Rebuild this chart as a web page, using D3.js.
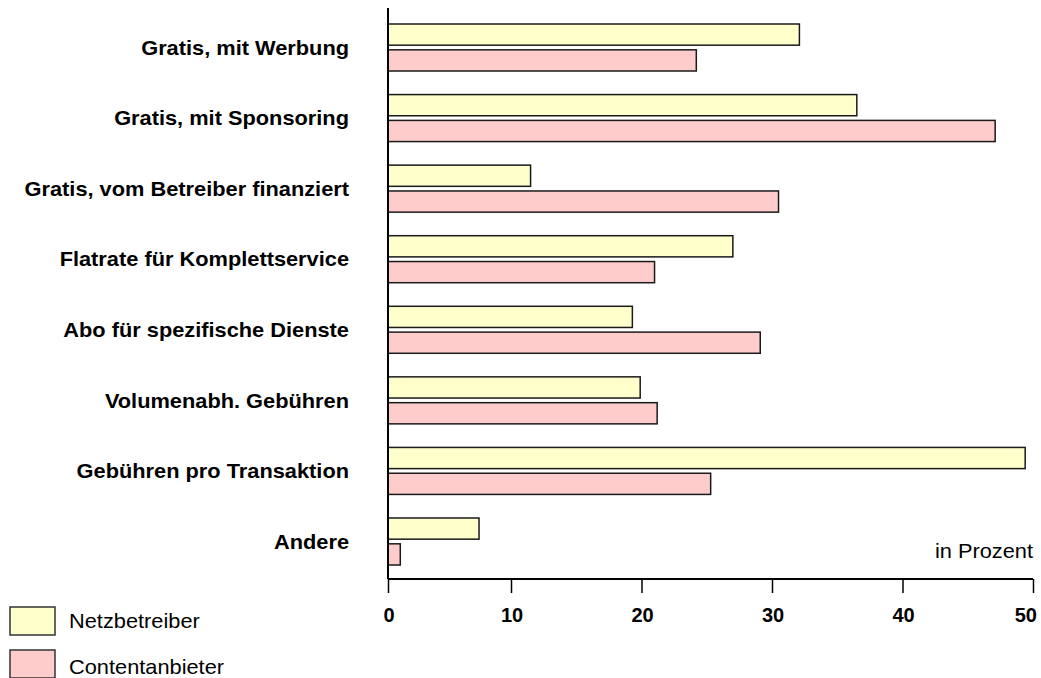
<!DOCTYPE html>
<html><head><meta charset="utf-8">
<script src="https://cdn.jsdelivr.net/npm/d3@7"></script>
<style>body{margin:0;background:#fff}svg{display:block}text{font-family:"Liberation Sans",Arial,sans-serif}</style>
</head><body><svg id="c" width="1041" height="678"></svg>
<script>
const categories = ["Gratis, mit Werbung","Gratis, mit Sponsoring","Gratis, vom Betreiber finanziert","Flatrate für Komplettservice","Abo für spezifische Dienste","Volumenabh. Gebühren","Gebühren pro Transaktion","Andere"];
const seriesNames = ["Netzbetreiber","Contentanbieter"];
const netzbetreiber = [32.1, 36.5, 11.5, 27.0, 19.3, 19.9, 49.4, 7.4];
const contentanbieter = [24.2, 47.1, 30.5, 21.0, 29.1, 21.2, 25.3, 1.0];
const tickValues = [0,10,20,30,40,50];
const colors = ["#FFFFCC","#FFCCCC"];

const svg = d3.select("#c");
const axisX = 388, axisY = 579;
const x = d3.scaleLinear().domain([0,10,50]).range([axisX,511,1033]);
const y = d3.scaleBand().domain(categories).range([24,565]).paddingInner(0.334).paddingOuter(0);
const ys = d3.scaleBand().domain([0,1]).range([0,y.bandwidth()]).paddingInner(0.18);
const series = [netzbetreiber, contentanbieter];

function stext(g, tx, ty, str, opts){
  const gg = g.append("g").attr("transform",`translate(${tx},${ty}) scale(${opts.sx||1.09},1)`);
  return gg.append("text").attr("text-anchor",opts.anchor||"start").attr("font-size",opts.size||20)
    .attr("font-weight",opts.weight||"normal").attr("fill","#000").attr("dy",opts.dy||0).text(str);
}

// bars
series.forEach((vals,si)=>{
  svg.append("g").selectAll("rect").data(vals).join("rect")
    .attr("x",x(0)).attr("y",(d,i)=>y(categories[i])+ys(si))
    .attr("width",d=>x(d)-x(0)).attr("height",ys.bandwidth())
    .attr("fill",colors[si]).attr("stroke","#1a1a1a").attr("stroke-width",1.5);
});

// axes
const xAxis = d3.axisBottom(x).tickValues(tickValues).tickSize(14).tickFormat("");
const gx = svg.append("g").attr("transform",`translate(0,${axisY})`).call(xAxis);
gx.select(".domain").attr("d",`M${axisX},0H${x(50)}`).attr("stroke","#000").attr("stroke-width",2);
gx.selectAll(".tick line").attr("stroke","#000").attr("stroke-width",1.5);
tickValues.forEach((v,i)=>{
  const last = i===tickValues.length-1;
  stext(svg, last ? x(v)+4 : x(v)+1, 622, String(v), {anchor: last?"end":"middle", weight:"bold", sx:1.0, size:20});
});

svg.append("line").attr("x1",axisX).attr("x2",axisX).attr("y1",8).attr("y2",axisY)
  .attr("stroke","#000").attr("stroke-width",2);

// category labels
categories.forEach(c=>stext(svg, 349, y(c)+y.bandwidth()/2, c, {anchor:"end", weight:"bold", dy:"0.36em"}));

// unit label
stext(svg, 1033, 558, "in Prozent", {anchor:"end"});

// legend
seriesNames.forEach((n,i)=>{
  svg.append("rect").attr("x",10).attr("y",607+i*43).attr("width",45).attr("height",28)
    .attr("fill",colors[i]).attr("stroke","#333").attr("stroke-width",1.5);
  stext(svg, 69, 628+i*46, n, {});
});
</script></body></html>
